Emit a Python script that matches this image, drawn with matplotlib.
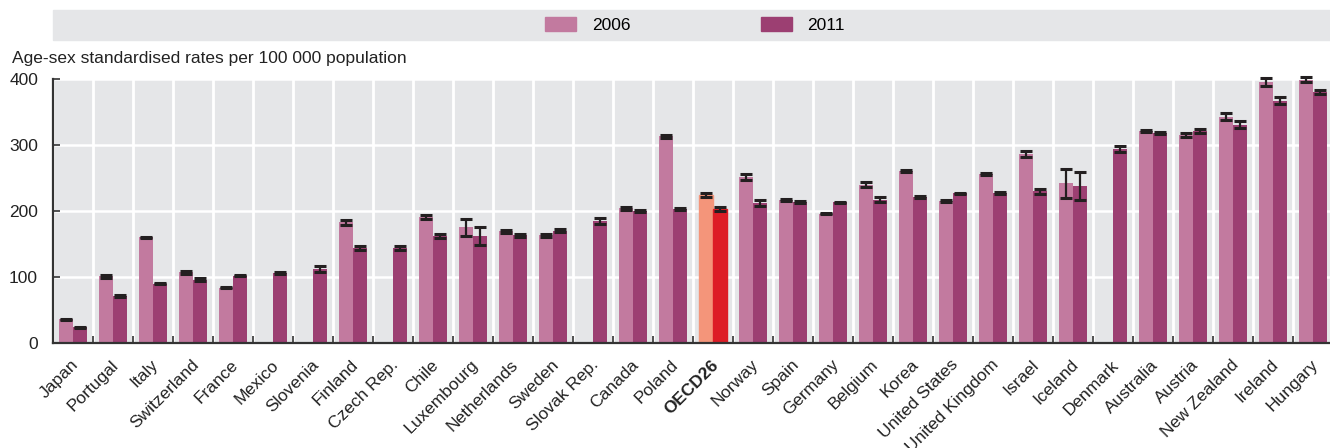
import numpy as np
import matplotlib
matplotlib.use("Agg")
import matplotlib.pyplot as plt
from matplotlib.patches import Rectangle, Patch

plt.rcParams["font.family"] = ["Liberation Sans Narrow", "Liberation Sans", "DejaVu Sans"]

countries = ["Japan", "Portugal", "Italy", "Switzerland", "France", "Mexico", "Slovenia",
             "Finland", "Czech Rep.", "Chile", "Luxembourg", "Netherlands", "Sweden",
             "Slovak Rep.", "Canada", "Poland", "OECD26", "Norway", "Spain", "Germany",
             "Belgium", "Korea", "United States", "United Kingdom", "Israel", "Iceland",
             "Denmark", "Australia", "Austria", "New Zealand", "Ireland", "Hungary"]
nan = np.nan
rate_2006 = [36, 101, 160, 107, 84, nan, nan, 183, nan, 191, 175, 169, 163, nan, 204, 313,
             224, 251, 216, 196, 240, 260, 215, 256, 287, 242, nan, 321, 315, 343, 395, 399]
rate_2011 = [24, 71, 90, 96, 102, 106, 112, 144, 144, 162, 162, 163, 170, 185, 200, 203,
             203, 212, 213, 213, 217, 221, 227, 227, 230, 238, 294, 318, 321, 331, 367, 380]
err_2006 = [1, 2, 1, 2.5, 1, nan, nan, 3.5, nan, 3, 13.5, 2, 2.5, nan, 2, 2,
            3, 4.5, 1.5, 1, 3.5, 1.5, 1, 1.5, 4.5, 22, nan, 2, 3, 5, 6, 3.5]
err_2011 = [1, 2, 1, 2.5, 1, 1.5, 4.5, 3, 3, 3, 13.5, 2, 2.5, 4, 1.5, 1.5,
            3, 4, 1.5, 1, 3.5, 1.5, 1, 1.5, 4, 21, 4, 2, 3, 5, 5.5, 3]

c2006, c2011 = "#C27A9F", "#9C3F72"
oecd_2006, oecd_2011 = "#F4957A", "#DD1D26"
bg = "#E5E6E8"
fs = 12.5

W, H = 1330, 448
fig = plt.figure(figsize=(W / 100, H / 100), dpi=100)
ax = fig.add_axes([53.3 / W, 1 - 343 / H, 1280 / W, 264 / H])
ax.set_facecolor(bg)

x = np.arange(len(countries))
bw = 0.35
b1 = ax.bar(x - bw / 2, rate_2006, bw, color=c2006, zorder=2)
b2 = ax.bar(x + bw / 2, rate_2011, bw, color=c2011, zorder=2)
i = countries.index("OECD26")
b1[i].set_color(oecd_2006)
b2[i].set_color(oecd_2011)

ekw = dict(fmt="none", ecolor="#231F20", elinewidth=1.6, capsize=4.5, capthick=2.2, zorder=3)
for xs, ys, es in [(x - bw / 2, rate_2006, err_2006), (x + bw / 2, rate_2011, err_2011)]:
    eb = ax.errorbar(xs, ys, yerr=es, **ekw)
    # caps near 400 poke out above the plot area in the original
    for art in eb.get_children():
        art.set_clip_on(False)

ax.set_xlim(-0.5, len(countries) - 0.5)
ax.set_ylim(0, 400)
ax.set_yticks([0, 100, 200, 300, 400])
# labels sit a little right of the category centre, as in the original
ax.set_xticks(x + 0.07)
ax.set_xticks(np.arange(len(countries) + 1) - 0.5, minor=True)
ax.set_xticklabels(countries, rotation=45, ha="right", va="center", rotation_mode="anchor")
for lab in ax.get_xticklabels():
    if lab.get_text() == "OECD26":
        lab.set_fontweight("bold")

ax.grid(axis="y", color="white", lw=1.8, zorder=1)
ax.grid(axis="x", which="minor", color="white", lw=2, zorder=1)
ax.set_axisbelow(True)
ax.tick_params(axis="x", which="major", length=0, pad=14, labelsize=fs, labelcolor="#222222")
ax.tick_params(axis="x", which="minor", direction="in", length=5, width=1.2, color="#333333")
ax.tick_params(axis="y", direction="in", length=5, width=1.2, color="#333333", pad=11,
               labelsize=fs, labelcolor="#222222")
for s in ["top", "right"]:
    ax.spines[s].set_visible(False)
for s in ["left", "bottom"]:
    ax.spines[s].set_color("#333333")
    ax.spines[s].set_linewidth(1.6)

fig.text(12 / W, 1 - 58 / H, "Age-sex standardised rates per 100 000 population",
         fontsize=fs, color="#222222", va="center")

# legend strip
fig.patches.append(Rectangle((53 / W, 1 - 40 / H), 1 - 53 / W, 30 / H,
                             transform=fig.transFigure, color=bg, zorder=0))
handles = [Patch(color=c2006, label="2006"), Patch(color=c2011, label="2011")]
fig.legend(handles=handles, loc="center left", bbox_to_anchor=(545 / W, 1 - 25 / H),
           ncol=2, frameon=False, fontsize=fs, handlelength=1.8, handleheight=0.9,
           handletextpad=0.9, columnspacing=7.5, borderpad=0, borderaxespad=0)

fig.savefig("out.png", dpi=100)
